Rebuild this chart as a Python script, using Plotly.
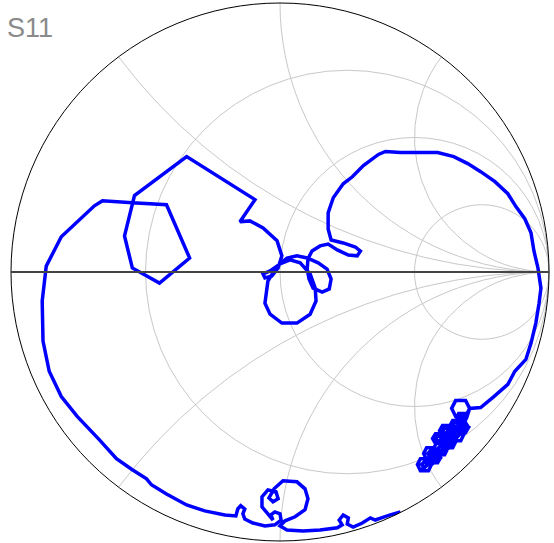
import numpy as np
import plotly.graph_objects as go

title_text = "S11"
resistance_grid = [1/3, 1, 3]
reactance_grid = [0.5, 1, 2]

# reflection coefficient read from the chart (real, imaginary), in drawing order
# part 1: tangled cluster at lower right (dense small loops)
cluster_re = [0.526,
              0.549, 0.537, 0.526, 0.537, 0.549,
              0.571, 0.560, 0.549, 0.560, 0.571,
              0.586, 0.575, 0.563, 0.575, 0.586,
              0.608, 0.597, 0.586, 0.597, 0.608,
              0.601, 0.590, 0.578, 0.590, 0.601,
              0.638, 0.627, 0.616, 0.627, 0.638,
              0.627, 0.616, 0.604, 0.616, 0.627,
              0.668, 0.657, 0.646, 0.657, 0.668,
              0.664, 0.653, 0.642, 0.653, 0.664,
              0.690, 0.679, 0.668, 0.679, 0.690,
              0.687, 0.675, 0.664, 0.675, 0.687,
              0.563, 0.552, 0.522, 0.511, 0.522, 0.552, 0.563,
              0.597, 0.586, 0.563, 0.552, 0.563, 0.586, 0.597,
              0.586, 0.575, 0.545, 0.534, 0.545, 0.575, 0.586,
              0.623, 0.612, 0.582, 0.571, 0.582, 0.612, 0.623,
              0.653, 0.642, 0.612, 0.601, 0.612, 0.642, 0.653,
              0.612, 0.601, 0.578, 0.567, 0.578, 0.601, 0.612,
              0.638, 0.627, 0.604, 0.593, 0.604, 0.627, 0.638,
              0.683, 0.672, 0.642, 0.631, 0.642, 0.672, 0.683,
              0.701, 0.690, 0.668, 0.657, 0.668, 0.690, 0.701,
              0.672, 0.664, 0.642, 0.634, 0.642, 0.664, 0.672,
              0.694, 0.687, 0.664, 0.657, 0.664, 0.687, 0.694,
              0.705, 0.690, 0.653, 0.638, 0.653, 0.690, 0.705]
cluster_im = [-0.735,
              -0.716, -0.705, -0.716, -0.728, -0.716,
              -0.675, -0.664, -0.675, -0.687, -0.675,
              -0.690, -0.679, -0.690, -0.701, -0.690,
              -0.657, -0.646, -0.657, -0.668, -0.657,
              -0.619, -0.608, -0.619, -0.631, -0.619,
              -0.631, -0.619, -0.631, -0.642, -0.631,
              -0.590, -0.578, -0.590, -0.601, -0.590,
              -0.604, -0.593, -0.604, -0.616, -0.604,
              -0.567, -0.556, -0.567, -0.578, -0.567,
              -0.578, -0.567, -0.578, -0.590, -0.578,
              -0.541, -0.530, -0.541, -0.552, -0.541,
              -0.716, -0.694, -0.694, -0.716, -0.739, -0.739, -0.716,
              -0.690, -0.672, -0.672, -0.690, -0.709, -0.709, -0.690,
              -0.675, -0.653, -0.653, -0.675, -0.698, -0.698, -0.675,
              -0.657, -0.634, -0.634, -0.657, -0.679, -0.679, -0.657,
              -0.631, -0.608, -0.608, -0.631, -0.653, -0.653, -0.631,
              -0.619, -0.601, -0.601, -0.619, -0.638, -0.638, -0.619,
              -0.590, -0.571, -0.571, -0.590, -0.608, -0.608, -0.590,
              -0.604, -0.582, -0.582, -0.604, -0.627, -0.627, -0.604,
              -0.578, -0.560, -0.560, -0.578, -0.597, -0.597, -0.578,
              -0.567, -0.552, -0.552, -0.567, -0.582, -0.582, -0.567,
              -0.541, -0.526, -0.526, -0.541, -0.556, -0.556, -0.541,
              -0.507, -0.478, -0.478, -0.507, -0.537, -0.537, -0.507]

# part 2: the rest of the trace
main_re = [0.746, 0.795, 0.847, 0.873, 0.914, 0.933, 0.951, 0.963, 0.970,
           0.959, 0.944, 0.933, 0.910, 0.877, 0.847, 0.799, 0.746, 0.698, 0.646,
           0.586, 0.448, 0.392, 0.366, 0.310, 0.269, 0.235, 0.198, 0.179, 0.179,
           0.190, 0.235, 0.280, 0.299, 0.287, 0.254, 0.213, 0.179, 0.149, 0.119,
           0.104, 0.101, 0.108, 0.123, 0.157, 0.183, 0.190, 0.175, 0.142, 0.101,
           0.063, 0.026, -0.011, -0.045, -0.056, -0.037, 0.007, 0.063, 0.112, 0.134,
           0.131, 0.112, 0.075, 0.037, 0.000, -0.037, -0.063, -0.056, -0.030, -0.007,
           0.007, -0.011, -0.063, -0.112, -0.149, -0.093, -0.347, -0.541, -0.578, -0.549,
           -0.448, -0.336, -0.422, -0.549, -0.660, -0.690, -0.813, -0.869, -0.884, -0.881,
           -0.858, -0.813, -0.754, -0.672, -0.608, -0.549, -0.496, -0.478, -0.422, -0.347,
           -0.280, -0.205, -0.164, -0.157, -0.146, -0.131, -0.138, -0.131, -0.101, -0.056,
           -0.019, 0.004, 0.000, -0.019, -0.034, -0.026, -0.045, -0.067, -0.067, -0.045,
           -0.015, -0.007, -0.026, -0.041, -0.022, 0.011, 0.063, 0.093, 0.104, 0.093,
           0.056, 0.019, 0.000, 0.026, 0.086, 0.149, 0.213, 0.231, 0.220, 0.235,
           0.254, 0.250, 0.272, 0.306, 0.336, 0.354, 0.377, 0.410, 0.448]
main_im = [-0.504, -0.463, -0.418, -0.369, -0.325, -0.265, -0.190, -0.116, -0.060,
           0.015, 0.078, 0.146, 0.198, 0.243, 0.291, 0.336, 0.373, 0.403, 0.429,
           0.444, 0.444, 0.448, 0.437, 0.396, 0.354, 0.328, 0.276, 0.220, 0.160,
           0.119, 0.108, 0.093, 0.078, 0.060, 0.063, 0.082, 0.104, 0.097, 0.078,
           0.049, 0.011, -0.026, -0.060, -0.075, -0.063, -0.026, 0.011, 0.034, 0.052,
           0.060, 0.052, 0.022, -0.034, -0.116, -0.157, -0.190, -0.190, -0.157, -0.108,
           -0.060, -0.007, 0.034, 0.045, 0.030, 0.004, -0.007, -0.022, -0.015, 0.015,
           0.060, 0.116, 0.164, 0.190, 0.187, 0.269, 0.429, 0.284, 0.134, 0.015,
           -0.041, 0.052, 0.250, 0.257, 0.265, 0.246, 0.131, 0.022, -0.108, -0.257,
           -0.369, -0.463, -0.537, -0.623, -0.694, -0.735, -0.769, -0.791, -0.825, -0.866,
           -0.888, -0.903, -0.907, -0.881, -0.869, -0.881, -0.899, -0.918, -0.933, -0.944,
           -0.940, -0.922, -0.899, -0.892, -0.903, -0.922, -0.899, -0.873, -0.836, -0.810,
           -0.817, -0.843, -0.854, -0.840, -0.806, -0.776, -0.780, -0.806, -0.843, -0.884,
           -0.910, -0.925, -0.944, -0.959, -0.963, -0.959, -0.951, -0.940, -0.922, -0.903,
           -0.914, -0.937, -0.948, -0.933, -0.914, -0.922, -0.914, -0.903, -0.892]

g = np.array(cluster_re + main_re) + 1j * np.array(cluster_im + main_im)
z = (1 + g) / (1 - g)   # normalised impedance for the Smith chart

fig = go.Figure()
fig.add_trace(go.Scattersmith(
    real=z.real, imag=z.imag, mode="lines",
    line=dict(color="#0000ff", width=3.5),
    hoverinfo="skip", showlegend=False,
))

imag_ticks = sorted([-v for v in reactance_grid] + reactance_grid + [-1e4, 1e4])

fig.update_layout(
    width=554, height=543,
    margin=dict(l=11, r=5, t=3, b=2),
    paper_bgcolor="white",
    showlegend=False,
    smith=dict(
        bgcolor="white",
        domain=dict(x=[0, 1], y=[0, 1]),
        realaxis=dict(
            tickvals=resistance_grid + [1e4],
            showticklabels=False, ticks="",
            gridcolor="#c8c8c8", gridwidth=1,
            showline=True, linecolor="#444444", linewidth=2,
        ),
        imaginaryaxis=dict(
            tickvals=imag_ticks,
            showticklabels=False, ticks="",
            gridcolor="#c8c8c8", gridwidth=1,
            showline=True, linecolor="black", linewidth=1,
        ),
    ),
)

fig.add_annotation(
    text=title_text, xref="paper", yref="paper",
    x=-0.011, y=0.9535, xanchor="left", yanchor="middle",
    showarrow=False,
    font=dict(family="Liberation Sans, Arial, sans-serif", size=27, color="#8a8a8a"),
)

fig.write_html(
    "out.html",
    config={"displayModeBar": False},
    post_script="document.body.style.margin='0';document.body.style.overflow='hidden';",
)
